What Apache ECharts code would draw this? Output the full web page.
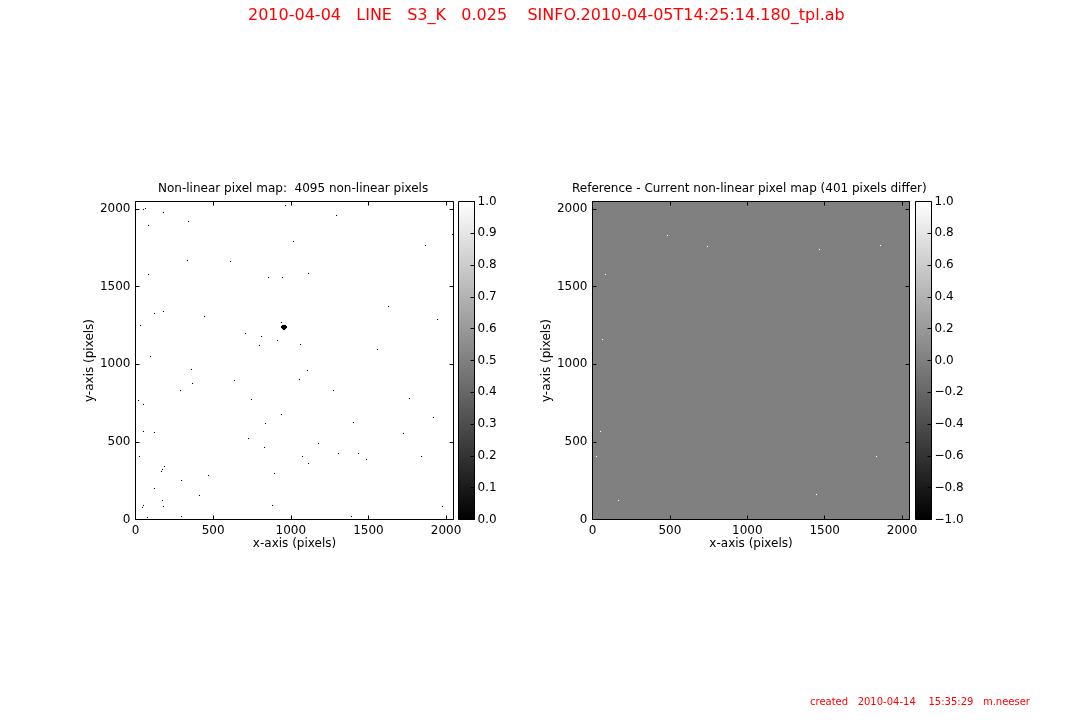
<!DOCTYPE html>
<html>
<head>
<meta charset="utf-8">
<style>html,body{margin:0;padding:0;background:#fff}#c{width:1080px;height:720px}</style>
<script src="https://cdn.jsdelivr.net/npm/echarts@6/dist/echarts.min.js"></script>
</head>
<body>
<div id="c"></div>
<script>
const suptitle = '2010-04-04   LINE   S3_K   0.025    SINFO.2010-04-05T14:25:14.180_tpl.ab';
const created = 'created   2010-04-14    15:35:29   m.neeser';
const leftTitle = 'Non-linear pixel map:  4095 non-linear pixels';
const rightTitle = 'Reference - Current non-linear pixel map (401 pixels differ)';
const xName = 'x-axis (pixels)';
const yName = 'y-axis (pixels)';
const detectorSize = 2048;
const tickStep = 500;
const leftBar = [0, 1];
const leftBarStep = 0.1;
const rightBar = [-1, 1];
const rightBarStep = 0.2;

// isolated non-linear pixels (x, y), read from the left map
const nonLinearPixels = [
 [49,1999],[62,2003],[180,1977],[341,1919],[84,1894],[966,2022],[1295,1958],[1018,1791],[1866,1765],[2040,1836],
 [335,1668],[612,1662],[84,1578],[857,1559],[947,1559],[1114,1584],[122,1327],[180,1340],[444,1308],[32,1250],
 [1630,1372],[1945,1288],[940,1269],[709,1198],[812,1179],[915,1153],[799,1121],[1063,1127],[1559,1095],[97,1050],
 [361,966],[367,876],[638,895],[290,831],[1056,902],[1108,960],[1275,831],[19,766],[52,741],[747,773],
 [1765,779],[940,676],[837,618],[1404,625],[1919,657],[52,567],[122,560],[1726,554],[728,522],[1179,490],
 [831,464],[26,406],[1076,406],[1308,425],[1436,425],[1842,406],[1488,386],[1114,361],[187,341],[174,322],
 [167,309],[895,296],[470,283],[296,251],[122,200],[412,155],[174,120],[180,84],[49,88],[45,79],
 [882,90],[1977,84],[77,13],[296,19],[1391,19]
];
// the dense clump of bad pixels near the detector centre
const clumpPixels = [
 [947,1249],[953,1249],[960,1249],[966,1249],
 [940,1243],[947,1243],[953,1243],[960,1243],[966,1243],[972,1243],
 [940,1236],[947,1236],[953,1236],[960,1236],[966,1236],[972,1236],
 [947,1230],[953,1230],[960,1230],[966,1230],
 [953,1223],[960,1223]
];
const differingPixels = [
 [483,1829],[741,1758],[1469,1739],[1861,1765],[84,1578],[64,1159],[52,567],[26,406],[167,122],[1449,161],[1836,406]
];

const font = 'DejaVu Sans';
const black = '#000';
const leftPlotWidth = 318, rightPlotWidth = 317, plotHeight = 318;

// the image is resampled to whole screen pixels, as the original map display does
const toScreenGrid = (pts, w, h) => pts.map(([x, y]) => {
  const sx = detectorSize / w, sy = detectorSize / h;
  return [Math.round(x / sx) * sx, Math.round(y / sy) * sy];
});

function mapAxes(gridIndex, axisType) {
  const common = {
    type:'value', gridIndex, min:0, max:detectorSize, interval:tickStep,
    splitLine:{show:false}, axisLine:{show:false, onZero:false}
  };
  const tick = {show:true, inside:true, length:4, lineStyle:{color:black,width:1}};
  const labels = {
    color:black, fontFamily:font, fontSize:12, margin:5, hideOverlap:false,
    formatter:v => (v % tickStep === 0 ? String(v) : '')
  };
  if (axisType === 'x') return [
    Object.assign({}, common, {position:'bottom', axisTick:tick, axisLabel:labels,
      name:xName, nameLocation:'middle', nameGap:17,
      nameTextStyle:{color:black,fontFamily:font,fontSize:12}}),
    Object.assign({}, common, {position:'top', axisTick:tick, axisLabel:{show:false}})
  ];
  return [
    Object.assign({}, common, {position:'left', axisTick:tick, axisLabel:labels,
      name:yName, nameLocation:'middle', nameGap:39,
      nameTextStyle:{color:black,fontFamily:font,fontSize:12}}),
    Object.assign({}, common, {position:'right', axisTick:tick, axisLabel:{show:false}})
  ];
}

function barAxes(gridIndex, range, step) {
  return {
    x:{type:'value', gridIndex, min:0, max:1, show:false},
    y:{type:'value', gridIndex, min:range[0], max:range[1], interval:step, position:'right', z:6,
      splitLine:{show:false}, axisLine:{show:false, onZero:false},
      axisTick:{show:true, inside:true, length:4, lineStyle:{color:black,width:1}},
      axisLabel:{color:black, fontFamily:font, fontSize:12, margin:3,
        formatter:v => (v < 0 ? '\u2212' : '') + Math.abs(v).toFixed(1)}}
  };
}

const leftX = mapAxes(0,'x'), leftY = mapAxes(0,'y');
const rightX = mapAxes(1,'x'), rightY = mapAxes(1,'y');
const cbL = barAxes(2,leftBar,leftBarStep), cbR = barAxes(3,rightBar,rightBarStep);

function ramp(range, xi, yi) {
  return {
    type:'custom', xAxisIndex:xi, yAxisIndex:yi, silent:true, z:1,
    data:[[0,range[0],1,range[1]]],
    encode:{x:[0,2],y:[1,3]},
    renderItem:(p,api) => {
      const a = api.coord([api.value(0),api.value(1)]);
      const b = api.coord([api.value(2),api.value(3)]);
      return {type:'rect', shape:{x:a[0],y:b[1],width:b[0]-a[0],height:a[1]-b[1]},
        style:{stroke:black, lineWidth:1,
          fill:new echarts.graphic.LinearGradient(0,0,0,1,[{offset:0,color:'#fff'},{offset:1,color:'#000'}])}};
    }
  };
}

const pixels = (data, color, xi, yi) => ({
  type:'scatter', xAxisIndex:xi, yAxisIndex:yi, data, symbol:'rect', symbolSize:1.1,
  itemStyle:{color, opacity:1}, silent:true, animation:false
});

const plain = (color, size) => ({color, fontFamily:font, fontSize:size, fontWeight:'normal'});

const chart = echarts.init(document.getElementById('c'), null, {renderer:'canvas'});
chart.setOption({
  animation:false,
  backgroundColor:'#fff',
  textStyle:{fontFamily:font},
  title:[
    {text:suptitle, left:248, top:8, padding:0, textStyle:plain('#f00',16)},
    {text:created, left:810, top:697, padding:0, textStyle:plain('#f00',10)},
    {text:leftTitle, left:158, top:183, padding:0, textStyle:plain(black,12)},
    {text:rightTitle, left:572, top:183, padding:0, textStyle:plain(black,12)}
  ],
  grid:[
    {left:135.5, top:201.5, width:leftPlotWidth, height:plotHeight, show:true, backgroundColor:'#fff', borderColor:black, borderWidth:1},
    {left:592.5, top:201.5, width:rightPlotWidth, height:plotHeight, show:true, backgroundColor:'#808080', borderColor:black, borderWidth:1},
    {left:458.5, top:201.5, width:16, height:plotHeight, show:false},
    {left:915.5, top:201.5, width:16, height:plotHeight, show:false}
  ],
  xAxis:[leftX[0],leftX[1],rightX[0],rightX[1],cbL.x,cbR.x],
  yAxis:[leftY[0],leftY[1],rightY[0],rightY[1],cbL.y,cbR.y],
  series:[
    pixels(toScreenGrid(nonLinearPixels, leftPlotWidth, plotHeight), black, 0, 0),
    pixels(toScreenGrid(clumpPixels, leftPlotWidth, plotHeight), black, 0, 0),
    pixels(toScreenGrid(differingPixels, rightPlotWidth, plotHeight), '#fff', 2, 2),
    ramp(leftBar,4,4),
    ramp(rightBar,5,5)
  ]
});
</script>
</body>
</html>
